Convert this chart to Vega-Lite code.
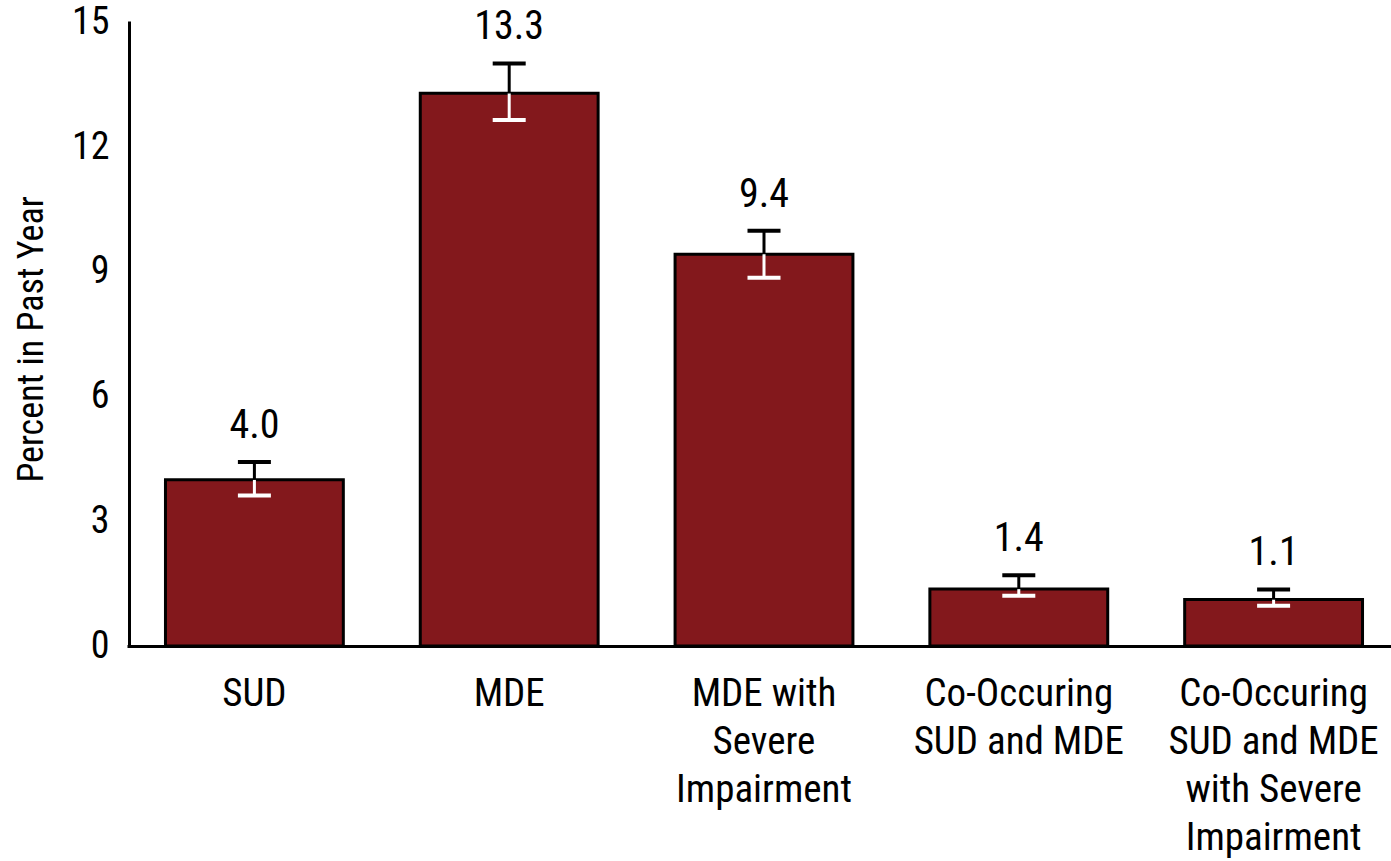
{
  "$schema": "https://vega.github.io/schema/vega-lite/v6.json",
  "width": 1262,
  "height": 625,
  "autosize": {"type": "none"},
  "padding": {"left": 129, "top": 21, "right": 0, "bottom": 215},
  "background": "white",
  "config": {
    "view": {"stroke": null},
    "font": "Roboto Condensed, Liberation Sans, sans-serif"
  },
  "data": {
    "values": [
      {"category": "SUD", "value": 4.0, "lower": 3.62, "upper": 4.43},
      {"category": "MDE", "value": 13.3, "lower": 12.66, "upper": 14.02},
      {"category": "MDE with Severe Impairment", "value": 9.43, "lower": 8.86, "upper": 9.99},
      {"category": "Co-Occuring SUD and MDE", "value": 1.37, "lower": 1.21, "upper": 1.70},
      {"category": "Co-Occuring SUD and MDE with Severe Impairment", "value": 1.12, "lower": 0.97, "upper": 1.36}
    ]
  },
  "encoding": {
    "x": {
      "field": "category",
      "type": "nominal",
      "sort": null,
      "scale": {"range": [-2, 1272], "paddingInner": 0.302, "paddingOuter": 0.151},
      "axis": {
        "title": null,
        "ticks": false,
        "domainColor": "black",
        "domainWidth": 3,
        "labelFont": "Roboto Condensed",
        "labelFontSize": 39,
        "labelColor": "black",
        "labelPadding": 28,
        "labelLineHeight": 48,
        "labelLimit": 0,
        "labelAngle": 0,
        "labelBaseline": "top",
        "labelExpr": "datum.value == 'MDE with Severe Impairment' ? ['MDE with', 'Severe', 'Impairment'] : datum.value == 'Co-Occuring SUD and MDE' ? ['Co-Occuring', 'SUD and MDE'] : datum.value == 'Co-Occuring SUD and MDE with Severe Impairment' ? ['Co-Occuring', 'SUD and MDE', 'with Severe', 'Impairment'] : datum.value"
      }
    }
  },
  "layer": [
    {
      "mark": {"type": "bar", "fill": "#83181C", "stroke": "black", "strokeWidth": 3},
      "encoding": {
        "y": {
          "field": "value",
          "type": "quantitative",
          "scale": {"domain": [0, 15.04], "nice": false, "zero": true},
          "axis": {
            "values": [0, 3, 6, 9, 12, 15],
            "grid": false,
            "ticks": false,
            "tickSize": 0,
            "domainColor": "black",
            "domainWidth": 3,
            "labelFont": "Roboto Condensed",
            "labelFontSize": 38,
            "labelColor": "black",
            "labelPadding": 20,
            "title": "Percent in Past Year",
            "titleFont": "Roboto Condensed",
            "titleFontSize": 36,
            "titleFontWeight": "normal",
            "titleColor": "black",
            "titleAngle": -90,
            "titleX": -87,
            "titleY": 318,
            "titleAlign": "center",
            "titleBaseline": "alphabetic"
          }
        }
      }
    },
    {
      "mark": {"type": "rule", "color": "white", "strokeWidth": 3},
      "encoding": {
        "y": {"field": "lower", "type": "quantitative"},
        "y2": {"field": "value"}
      }
    },
    {
      "mark": {"type": "tick", "color": "white", "size": 33, "thickness": 4, "opacity": 1},
      "encoding": {
        "y": {"field": "lower", "type": "quantitative"}
      }
    },
    {
      "mark": {"type": "rule", "color": "black", "strokeWidth": 3},
      "encoding": {
        "y": {"field": "value", "type": "quantitative"},
        "y2": {"field": "upper"}
      }
    },
    {
      "mark": {"type": "tick", "color": "black", "size": 33, "thickness": 4, "opacity": 1},
      "encoding": {
        "y": {"field": "upper", "type": "quantitative"}
      }
    },
    {
      "mark": {"type": "text", "font": "Roboto Condensed", "fontSize": 40, "color": "black", "baseline": "alphabetic", "dy": -24},
      "encoding": {
        "y": {"field": "upper", "type": "quantitative"},
        "text": {"field": "value", "type": "quantitative", "format": ".1f"}
      }
    }
  ]
}
